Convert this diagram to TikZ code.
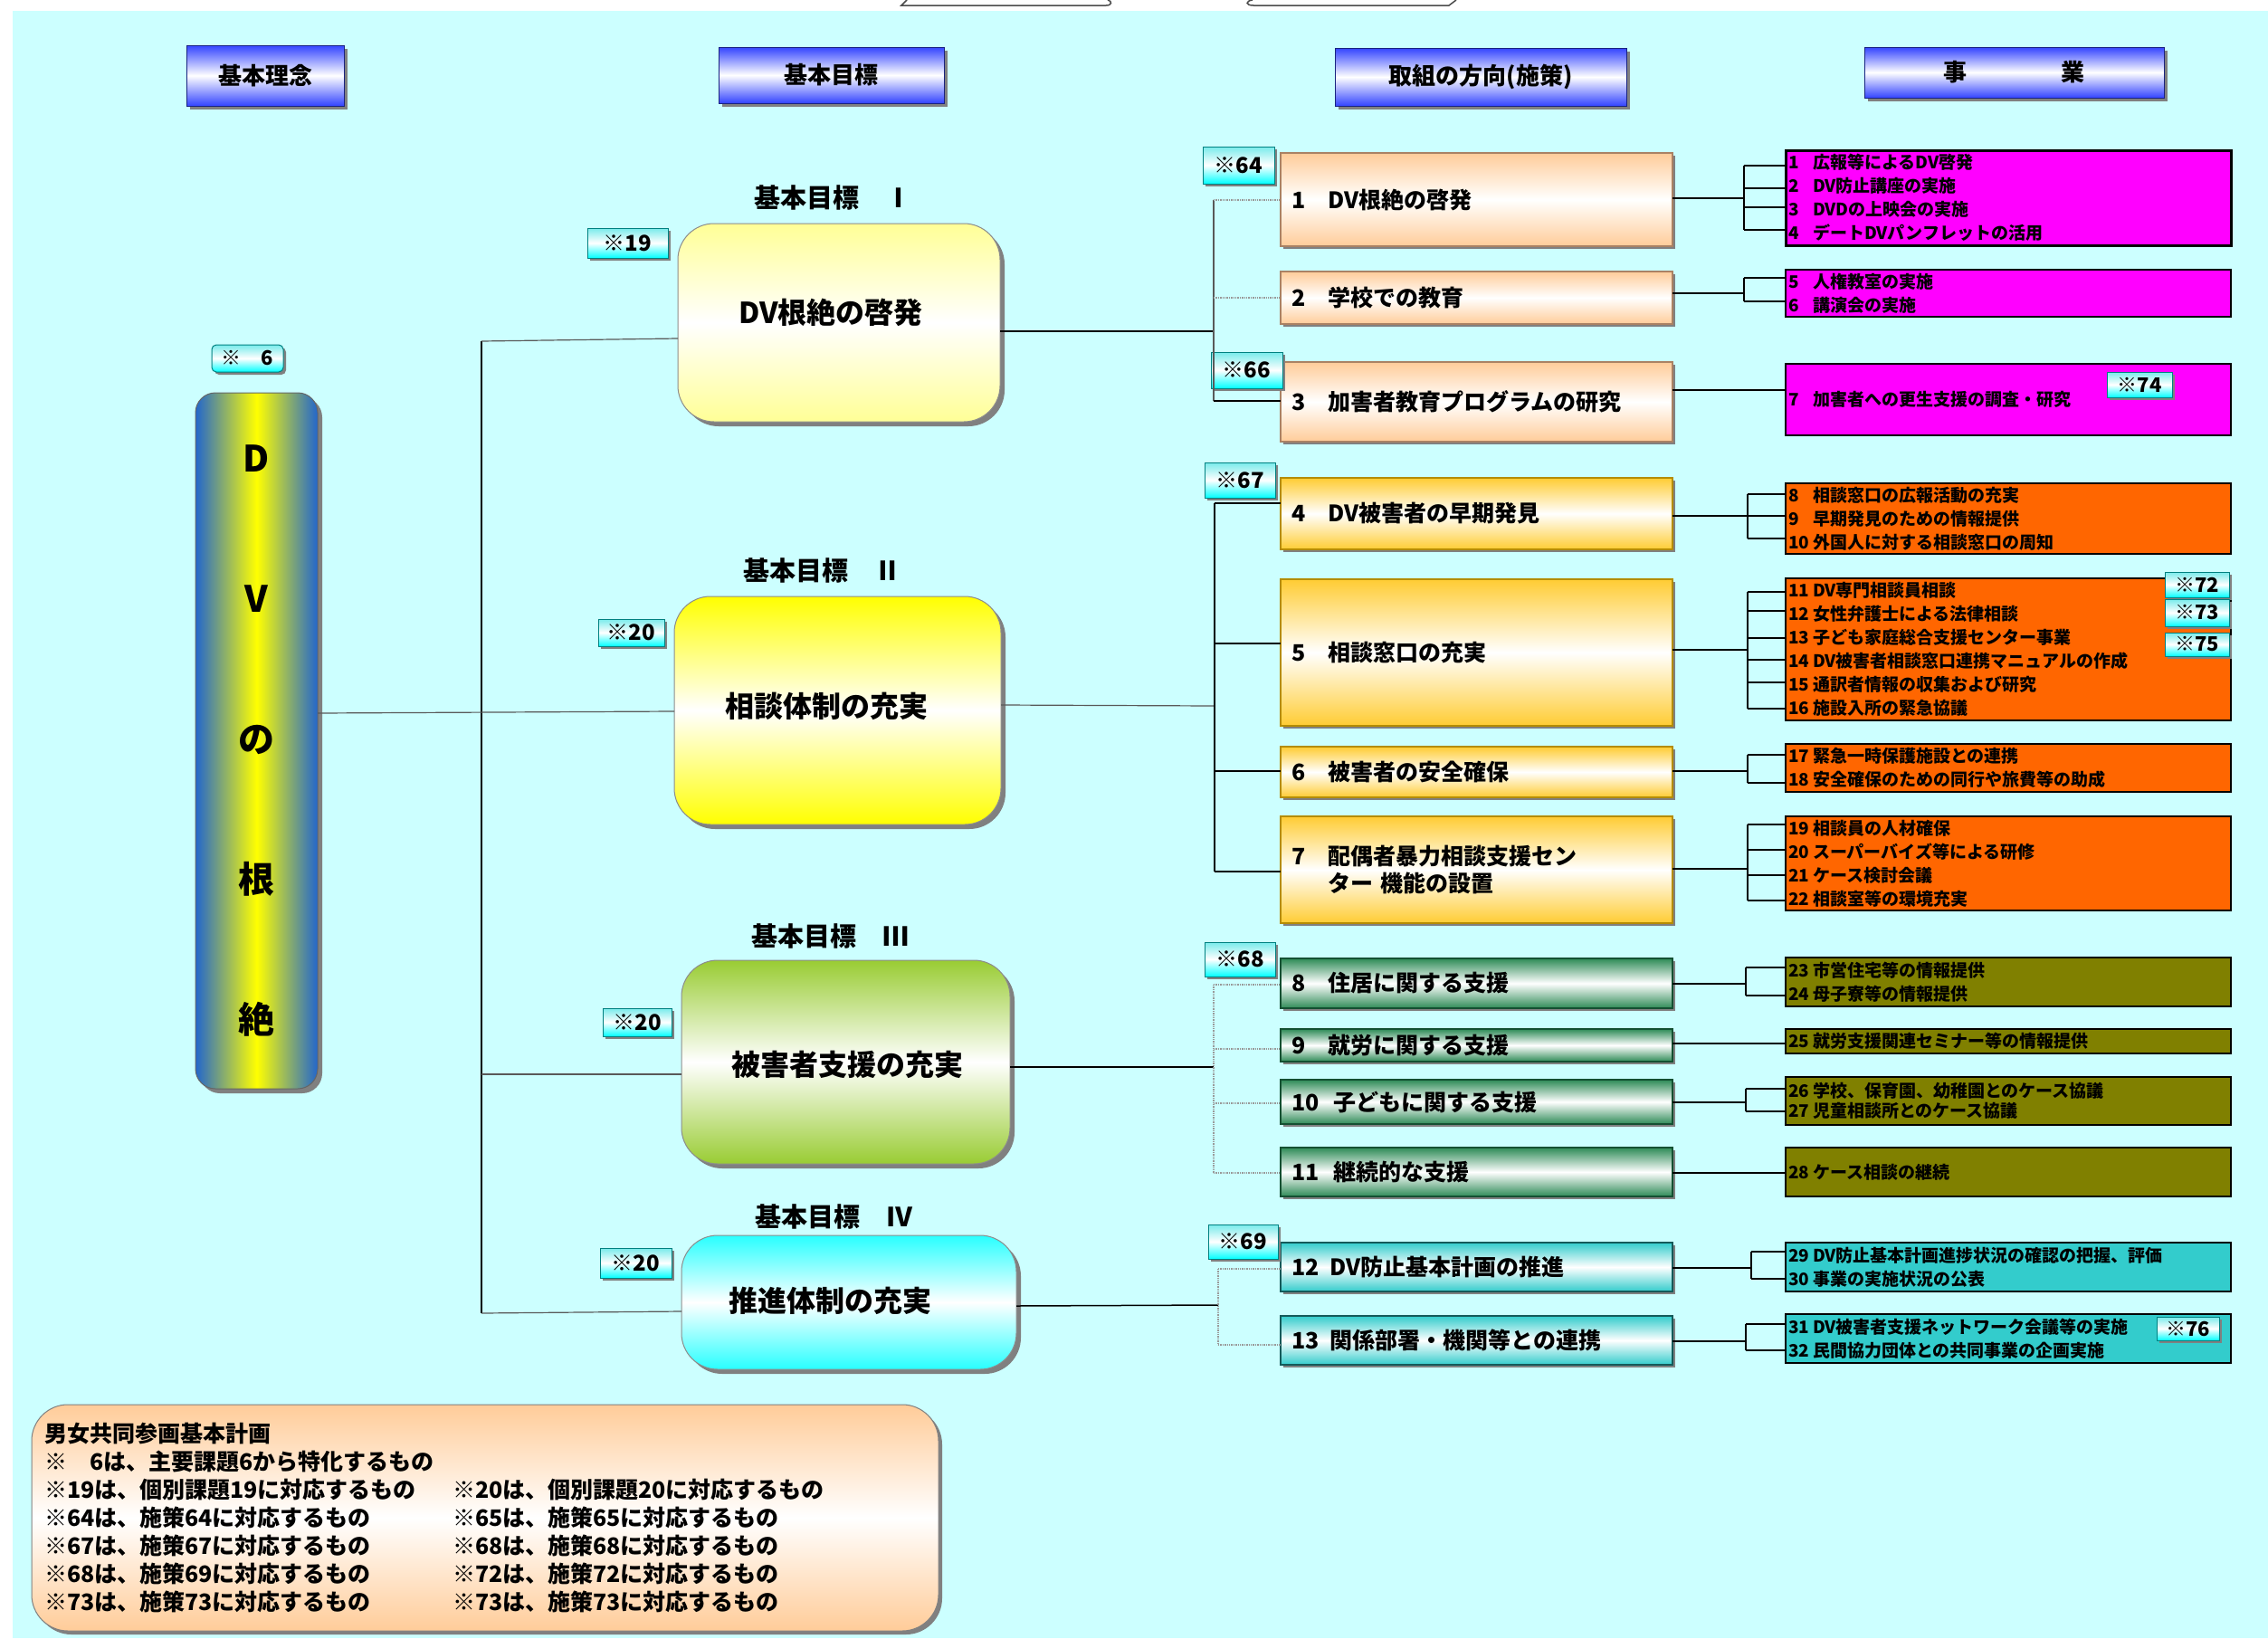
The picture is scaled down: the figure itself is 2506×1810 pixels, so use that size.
\documentclass[tikz,border=0pt]{standalone}
\usepackage{fontspec}
\setmainfont{Noto Sans CJK JP}
\usetikzlibrary{shadows}
\definecolor{bgcyan}{RGB}{204,255,255}
\definecolor{hdrblue}{RGB}{51,68,255}
\definecolor{gpale}{RGB}{255,255,150}
\definecolor{gyel}{RGB}{255,255,0}
\definecolor{ggreen}{RGB}{153,204,51}
\definecolor{gcyan}{RGB}{40,255,255}
\definecolor{mpeach}{RGB}{255,204,153}
\definecolor{mpeachd}{RGB}{170,130,100}
\definecolor{mgold}{RGB}{255,204,51}
\definecolor{mgoldd}{RGB}{180,140,0}
\definecolor{mgreen}{RGB}{46,139,87}
\definecolor{mgreend}{RGB}{20,80,50}
\definecolor{mteal}{RGB}{51,204,204}
\definecolor{mteald}{RGB}{20,90,90}
\definecolor{bmag}{RGB}{255,0,255}
\definecolor{borange}{RGB}{255,102,0}
\definecolor{bolive}{RGB}{128,128,0}
\definecolor{bteal}{RGB}{51,204,204}
\definecolor{pillarblue}{RGB}{34,102,204}
\definecolor{shadowgray}{RGB}{128,128,128}
\definecolor{tagtop}{RGB}{120,235,235}
\definecolor{tagbot}{RGB}{0,255,255}
\newcommand{\fsz}[2]{\fontsize{#1}{#2}\selectfont\bfseries}
\newcommand{\bn}[1]{\makebox[27pt][l]{#1}}
\newcommand{\lc}[1]{\makebox[451pt][l]{#1}}
\newcommand{\comb}[7]{%
  \draw[lnsolid] (#1.east |- 0,#4) -- (#3,#4);
  \draw[lnsolid] (#3,#5) -- (#3,#6);
  \foreach \yy in {#7} {\draw[lnsolid] (#3,\yy) -- (#2.west |- 0,\yy);}%
}
\begin{document}
\begin{tikzpicture}[x=1pt, y=-1pt,
  every node/.style={inner sep=0pt, outer sep=0pt},
  shad/.style={general shadow={fill=shadowgray, shadow xshift=#1, shadow yshift=-#1}},
  hdrbox/.style={rectangle, draw=hdrblue!50!black, line width=1pt, top color=hdrblue, bottom color=hdrblue, middle color=white, shad=4pt, font=\fsz{26}{30}},
  goalbox/.style={rectangle, rounded corners=40pt, draw=black!45, line width=1pt, shad=5pt},
  goaltxt/.style={font=\fsz{32}{38}},
  gtitle/.style={font=\fsz{29}{34}},
  tagbox/.style={rectangle, draw=teal, line width=1pt, top color=tagtop, bottom color=tagbot, middle color=white, font=\fsz{24}{28}, shad=3pt},
  measbox/.style={rectangle, line width=1.2pt, minimum width=433pt, text width=409pt, inner xsep=12pt, align=left, font=\fsz{25}{30}, shad=3pt},
  mA/.style={measbox, draw=mpeachd, top color=mpeach, bottom color=mpeach, middle color=white},
  mB/.style={measbox, draw=mgoldd, top color=mgold, bottom color=mgold, middle color=white},
  mC/.style={measbox, draw=mgreend, top color=mgreen, bottom color=mgreen, middle color=white},
  mD/.style={measbox, draw=mteald, top color=mteal, bottom color=mteal, middle color=white},
  busbox/.style={rectangle, draw=black, line width=1.3pt, minimum width=492pt, text width=486pt, inner xsep=3pt, align=left, font=\fsz{19}{26}},
  lnsolid/.style={draw=black, line width=1.5pt},
  lngray/.style={draw=black!65, line width=1.2pt},
  lndot/.style={draw=black!40, line width=1.4pt, densely dotted},
]
\useasboundingbox (0,0) rectangle (2506,1810);
\fill[white] (0,0) rectangle (2506,1810);
\fill[bgcyan] (14,12) rectangle (2506,1810);
% stray shapes at top edge
\draw[black!70, line width=1.5pt] (1002,0) -- (996,6) -- (1222,6) .. controls (1229,6) and (1229,1) .. (1224,0);
\draw[black!70, line width=1.5pt] (1384,0) .. controls (1376,1) and (1376,6) .. (1385,6) -- (1601,6) -- (1609,0);

% headers
\node[hdrbox, minimum width=174pt, minimum height=67pt] (h1) at (293,83.5) {基本理念};
\node[hdrbox, minimum width=249pt, minimum height=62pt] (h2) at (918.5,83) {基本目標};
\node[hdrbox, minimum width=322pt, minimum height=64pt] (h3) at (1636,85) {取組の方向(施策)};
\node[hdrbox, minimum width=331pt, minimum height=56pt] (h4) at (2225.5,80) {事　　　　業};

% pillar
\node[tagbox, rounded corners=5pt, minimum width=79pt, minimum height=30pt, font=\fsz{22}{26}] (s6) at (273.5,396) {※　6};
\node[draw=black!60, line width=1pt, rounded corners=22pt, left color=pillarblue, right color=pillarblue, middle color=yellow, shad=5pt, minimum width=135pt, minimum height=769pt, font=\fsz{40}{155}, align=center] (p) at (283.5,818.5) {D\\V\\の\\根\\絶};

% goals
\node[goalbox, top color=gpale, bottom color=gpale, middle color=white, minimum width=356pt, minimum height=219pt] (g1) at (927,356.5) {};
\node[goaltxt] (g1t) at (918,345) {DV根絶の啓発};
\node[gtitle] (g1h) at (920,218) {基本目標　Ⅰ};
\node[tagbox, minimum width=89pt, minimum height=33pt] (s19) at (693.5,268.5) {※19};

\node[goalbox, top color=gyel, bottom color=gyel, middle color=white, minimum width=361pt, minimum height=252pt] (g2) at (925.5,785) {};
\node[goaltxt] (g2t) at (913,780) {相談体制の充実};
\node[gtitle] (g2h) at (908,630) {基本目標　Ⅱ};
\node[tagbox, minimum width=73pt, minimum height=30pt] (s20a) at (697.5,699) {※20};

\node[goalbox, top color=ggreen, bottom color=ggreen, middle color=white, minimum width=363pt, minimum height=225pt] (g3) at (934.5,1173.5) {};
\node[goaltxt] (g3t) at (936,1176) {被害者支援の充実};
\node[gtitle] (g3h) at (917,1034) {基本目標　Ⅲ};
\node[tagbox, minimum width=76pt, minimum height=31pt] (s20b) at (704,1129.5) {※20};

\node[goalbox, top color=gcyan, bottom color=gcyan, middle color=white, minimum width=370pt, minimum height=148pt] (g4) at (938,1439) {};
\node[goaltxt] (g4t) at (917,1437) {推進体制の充実};
\node[gtitle] (g4h) at (921,1344) {基本目標　Ⅳ};
\node[tagbox, minimum width=79pt, minimum height=33pt] (s20c) at (702.5,1395.5) {※20};

% measures
\node[mA, minimum height=103pt] (m1) at (1631.5,220.5) {1　DV根絶の啓発};
\node[mA, minimum height=58pt] (m2) at (1631.5,329) {2　学校での教育};
\node[mA, minimum height=88pt] (m3) at (1631.5,444) {3　加害者教育プログラムの研究};
\node[mB, minimum height=79pt] (m4) at (1631.5,567.5) {4　DV被害者の早期発見};
\node[mB, minimum height=162pt] (m5) at (1631.5,721) {5　相談窓口の充実};
\node[mB, minimum height=56pt] (m6) at (1631.5,853) {6　被害者の安全確保};
\node[mB, minimum height=118pt] (m7) at (1631.5,961) {7　配偶者暴力相談支援セン\\\phantom{7　}ター 機能の設置};
\node[mC, minimum height=55pt] (m8) at (1631.5,1086.5) {8　住居に関する支援};
\node[mC, minimum height=36pt] (m9) at (1631.5,1155) {9　就労に関する支援};
\node[mC, minimum height=49pt] (m10) at (1631.5,1217.5) {10\hspace{16pt}子どもに関する支援};
\node[mC, minimum height=54pt] (m11) at (1631.5,1295) {11\hspace{16pt}継続的な支援};
\node[mD, minimum height=54pt] (m12) at (1631.5,1400) {12\hspace{12pt}DV防止基本計画の推進};
\node[mD, minimum height=54pt] (m13) at (1631.5,1481) {13\hspace{12pt}関係部署・機関等との連携};

\node[tagbox, minimum width=79pt, minimum height=41pt] (s64) at (1368.5,182.5) {※64};
\node[tagbox, minimum width=79pt, minimum height=40pt] (s66) at (1377.5,409) {※66};
\node[tagbox, minimum width=78pt, minimum height=39pt] (s67) at (1370,530.5) {※67};
\node[tagbox, minimum width=78pt, minimum height=38pt] (s68) at (1370,1060) {※68};
\node[tagbox, minimum width=77pt, minimum height=38pt] (s69) at (1373.5,1372) {※69};

% business boxes
\node[busbox, fill=bmag, line width=3pt, minimum height=105pt] (b1) at (2219,218.5) {\bn{1}広報等によるDV啓発\\\bn{2}DV防止講座の実施\\\bn{3}DVDの上映会の実施\\\bn{4}デートDVパンフレットの活用};
\node[busbox, fill=bmag, minimum height=52pt] (b2) at (2219,324) {\bn{5}人権教室の実施\\\bn{6}講演会の実施};
\node[busbox, fill=bmag, minimum height=79pt] (b3) at (2219,441.5) {\bn{7}加害者への更生支援の調査・研究};
\node[busbox, fill=borange, minimum height=78pt] (b4) at (2219,573) {\bn{8}相談窓口の広報活動の充実\\\bn{9}早期発見のための情報提供\\\bn{10}外国人に対する相談窓口の周知};
\node[busbox, fill=borange, minimum height=157pt] (b5) at (2219,717.5) {\bn{11}DV専門相談員相談\\\bn{12}女性弁護士による法律相談\\\bn{13}子ども家庭総合支援センター事業\\\bn{14}DV被害者相談窓口連携マニュアルの作成\\\bn{15}通訳者情報の収集および研究\\\bn{16}施設入所の緊急協議};
\node[busbox, fill=borange, minimum height=53pt] (b6) at (2219,848.5) {\bn{17}緊急一時保護施設との連携\\\bn{18}安全確保のための同行や旅費等の助成};
\node[busbox, fill=borange, minimum height=104pt] (b7) at (2219,954) {\bn{19}相談員の人材確保\\\bn{20}スーパーバイズ等による研修\\\bn{21}ケース検討会議\\\bn{22}相談室等の環境充実};
\node[busbox, fill=bolive, minimum height=54pt] (b8) at (2219,1085) {\bn{23}市営住宅等の情報提供\\\bn{24}母子寮等の情報提供};
\node[busbox, fill=bolive, minimum height=27pt] (b9) at (2219,1150.5) {\bn{25}就労支援関連セミナー等の情報提供};
\node[busbox, fill=bolive, minimum height=53pt, font=\fsz{19}{22}] (b10) at (2219,1216.5) {\bn{26}学校、保育園、幼稚園とのケース協議\\\bn{27}児童相談所とのケース協議};
\node[busbox, fill=bolive, minimum height=54pt] (b11) at (2219,1295) {\bn{28}ケース相談の継続};
\node[busbox, fill=bteal, minimum height=54pt] (b12) at (2219,1400) {\bn{29}DV防止基本計画進捗状況の確認の把握、評価\\\bn{30}事業の実施状況の公表};
\node[busbox, fill=bteal, minimum height=54pt] (b13) at (2219,1479) {\bn{31}DV被害者支援ネットワーク会議等の実施\\\bn{32}民間協力団体との共同事業の企画実施};

\node[tagbox, minimum width=72pt, minimum height=28pt, font=\fsz{22}{26}] (s74) at (2364,425) {※74};
\node[tagbox, minimum width=71pt, minimum height=28pt, font=\fsz{22}{26}] (s72) at (2427.5,646) {※72};
\node[tagbox, minimum width=71pt, minimum height=30pt, font=\fsz{22}{26}] (s73) at (2427.5,677) {※73};
\node[tagbox, minimum width=71pt, minimum height=26pt, font=\fsz{22}{26}] (s75) at (2427.5,712) {※75};
\node[tagbox, minimum width=69pt, minimum height=26pt, font=\fsz{22}{26}] (s76) at (2417.5,1468) {※76};

% legend
\node[draw=black!50, line width=1pt, rounded corners=40pt, top color=mpeach, bottom color=mpeach, middle color=white, shad=4pt, minimum width=1002pt, minimum height=250pt, text width=974pt, inner xsep=14pt, align=left, font=\fsz{25}{31}] (leg) at (536,1677) {男女共同参画基本計画\\
※　6は、主要課題6から特化するもの\\
\lc{※19は、個別課題19に対応するもの}※20は、個別課題20に対応するもの\\
\lc{※64は、施策64に対応するもの}※65は、施策65に対応するもの\\
\lc{※67は、施策67に対応するもの}※68は、施策68に対応するもの\\
\lc{※68は、施策69に対応するもの}※72は、施策72に対応するもの\\
\lc{※73は、施策73に対応するもの}※73は、施策73に対応するもの};

% left connectors
\coordinate (trk) at (532,0);
\draw[lnsolid] (trk |- 0,377) -- (trk |- 0,1451);
\draw[lngray] (p.east |- 0,788) -- (g2.west |- 0,786);
\draw[lngray] (trk |- 0,377) -- (g1.west |- 0,374);
\draw[lngray] (trk |- 0,1187) -- (g3.west |- 0,1187);
\draw[lngray] (trk |- 0,1451) -- (g4.west |- 0,1449);

% goal -> measures
\coordinate (v1) at (1341,0);
\draw[lnsolid] (g1.east |- 0,366) -- (v1 |- 0,366);
\draw[lngray] (v1 |- 0,221) -- (v1 |- 0,443);
\draw[lndot] (v1 |- 0,221) -- (m1.west |- 0,221);
\draw[lndot] (v1 |- 0,329) -- (m2.west |- 0,329);
\draw[lnsolid] (v1 |- 0,443) -- (m3.west |- 0,443);

\coordinate (v2) at (1342,0);
\draw[lngray] (g2.east |- 0,779) -- (v2 |- 0,780);
\draw[lnsolid] (v2 |- 0,556) -- (v2 |- 0,963);
\foreach \yy/\mm in {556/m4,711/m5,852/m6,963/m7} {\draw[lnsolid] (v2 |- 0,\yy) -- (\mm.west |- 0,\yy);}

\coordinate (v3) at (1341,0);
\draw[lnsolid] (g3.east |- 0,1179) -- (v3 |- 0,1179);
\draw[lndot] (v3 |- 0,1088) -- (v3 |- 0,1296);
\foreach \yy/\mm in {1088/m8,1159/m9,1219/m10,1296/m11} {\draw[lndot] (v3 |- 0,\yy) -- (\mm.west |- 0,\yy);}

\coordinate (v4) at (1346,0);
\draw[lnsolid] (g4.east |- 0,1443) -- (v4 |- 0,1442);
\draw[lndot] (v4 |- 0,1402) -- (v4 |- 0,1486);
\foreach \yy/\mm in {1402/m12,1486/m13} {\draw[lndot] (v4 |- 0,\yy) -- (\mm.west |- 0,\yy);}

% measures -> business
\comb{m1}{b1}{1927}{219}{183}{254}{183,208,229,254}
\comb{m2}{b2}{1927}{324}{307}{333}{307,333}
\draw[lnsolid] (m3.east |- 0,431) -- (b3.west |- 0,431);
\comb{m4}{b4}{1931}{570}{546}{595}{546,570,595}
\comb{m5}{b5}{1931}{718}{654}{783}{654,675,705,729,754,783}
\comb{m6}{b6}{1931}{852}{834}{865}{834,865}
\comb{m7}{b7}{1931}{960}{911}{995}{911,939,967,995}
\comb{m8}{b8}{1929}{1087}{1069}{1100}{1069,1100}
\draw[lnsolid] (m9.east |- 0,1153) -- (b9.west |- 0,1153);
\comb{m10}{b10}{1929}{1218}{1203}{1228}{1203,1228}
\draw[lnsolid] (m11.east |- 0,1296) -- (b11.west |- 0,1296);
\comb{m12}{b12}{1935}{1401}{1383}{1413}{1383,1413}
\comb{m13}{b13}{1929}{1482}{1463}{1492}{1463,1492}
\end{tikzpicture}
\end{document}
